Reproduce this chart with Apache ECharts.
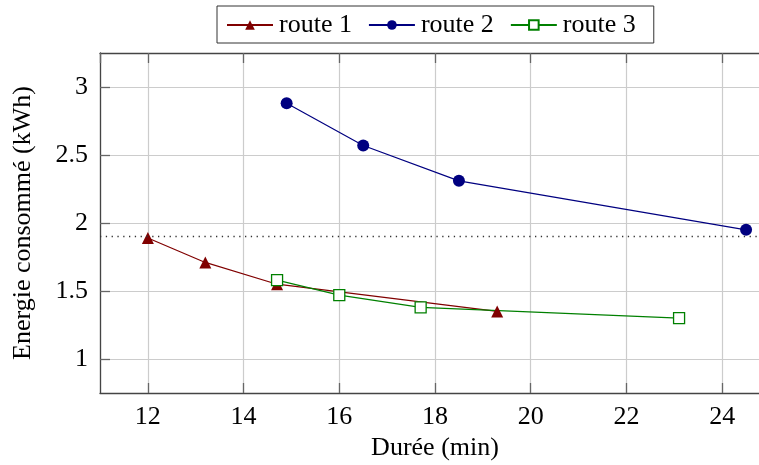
<!DOCTYPE html>
<html>
<head>
<meta charset="utf-8">
<script src="https://cdn.jsdelivr.net/npm/echarts@6/dist/echarts.min.js"></script>
<style>
html, body { margin: 0; padding: 0; background: #fff; }
#chart { width: 759px; height: 465px; }
</style>
</head>
<body>
<div id="chart"></div>
<script>
// données
var route1 = [[12, 1.89], [13.2, 1.71], [14.7, 1.55], [19.3, 1.35]];
var route2 = [[14.9, 2.88], [16.5, 2.57], [18.5, 2.31], [24.5, 1.95]];
var route3 = [[14.7, 1.58], [16, 1.47], [17.7, 1.38], [23.1, 1.3]];
var seuil = 1.9;
var noms = ['route 1', 'route 2', 'route 3'];

var police = '"Liberation Serif", "DejaVu Serif", serif';
var chart = echarts.init(document.getElementById('chart'));

chart.setOption({
    animation: false,
    textStyle: { fontFamily: police },
    // la figure est coupée à droite : le cadre dépasse la fenêtre
    grid: { left: 100, top: 53, width: 670, bottom: 72, outerBoundsMode: 'none' },
    legend: {
        data: noms,
        left: 217,
        top: 6,
        padding: [6, 18, 5, 9],
        itemWidth: 46,
        itemHeight: 12,
        itemGap: 16,
        borderColor: '#333',
        borderWidth: 1,
        textStyle: { fontFamily: police, fontSize: 26, color: '#000', padding: [0, 0, 0, 1] }
    },
    xAxis: [{
        type: 'value',
        min: 11, max: 25,
        splitNumber: 7,
        name: 'Durée (min)',
        nameLocation: 'middle',
        nameGap: 41,
        nameTextStyle: { fontFamily: police, fontSize: 26, color: '#000' },
        axisLine: { onZero: false, lineStyle: { color: '#444', width: 1.3 } },
        axisTick: { inside: true, length: 10, lineStyle: { color: '#666', width: 1.3 } },
        axisLabel: { showMinLabel: false, showMaxLabel: false, margin: 11, fontFamily: police, fontSize: 26, color: '#000' },
        splitLine: { lineStyle: { color: '#ccc', width: 1.2 } }
    }, {
        type: 'value',
        position: 'top',
        min: 11, max: 25,
        splitNumber: 7,
        axisLine: { onZero: false, lineStyle: { color: '#444', width: 1.3 } },
        axisTick: { inside: true, length: 10, lineStyle: { color: '#666', width: 1.3 } },
        axisLabel: { show: false },
        splitLine: { show: false }
    }],
    yAxis: {
        type: 'value',
        min: 0.75, max: 3.25,
        splitNumber: 5,
        name: 'Energie consommé (kWh)',
        nameLocation: 'middle',
        nameGap: 64,
        nameTextStyle: { fontFamily: police, fontSize: 26, color: '#000' },
        axisLine: { show: true, onZero: false, lineStyle: { color: '#444', width: 1.3 } },
        axisTick: { show: true, inside: true, length: 10, lineStyle: { color: '#666', width: 1.3 } },
        axisLabel: { showMinLabel: false, showMaxLabel: false, margin: 12, fontFamily: police, fontSize: 26, color: '#000' },
        splitLine: { lineStyle: { color: '#ccc', width: 1.2 } }
    },
    series: [{
        name: noms[0],
        type: 'line',
        data: route1,
        symbol: 'triangle',
        symbolSize: 12,
        itemStyle: { color: '#800000' },
        lineStyle: { color: '#800000', width: 1.2 },
        markLine: {
            silent: true,
            symbol: 'none',
            label: { show: false },
            lineStyle: { color: '#333', type: [1.3, 4.5], width: 1.3 },
            data: [{ yAxis: seuil }]
        }
    }, {
        name: noms[1],
        type: 'line',
        data: route2,
        symbol: 'circle',
        symbolSize: 12,
        itemStyle: { color: '#000080' },
        lineStyle: { color: '#000080', width: 1.2 }
    }, {
        name: noms[2],
        type: 'line',
        data: route3,
        symbol: 'rect',
        symbolSize: 11,
        itemStyle: { color: '#fff', borderColor: '#008000', borderWidth: 1.3 },
        lineStyle: { color: '#008000', width: 1.2 }
    }]
});
</script>
</body>
</html>
